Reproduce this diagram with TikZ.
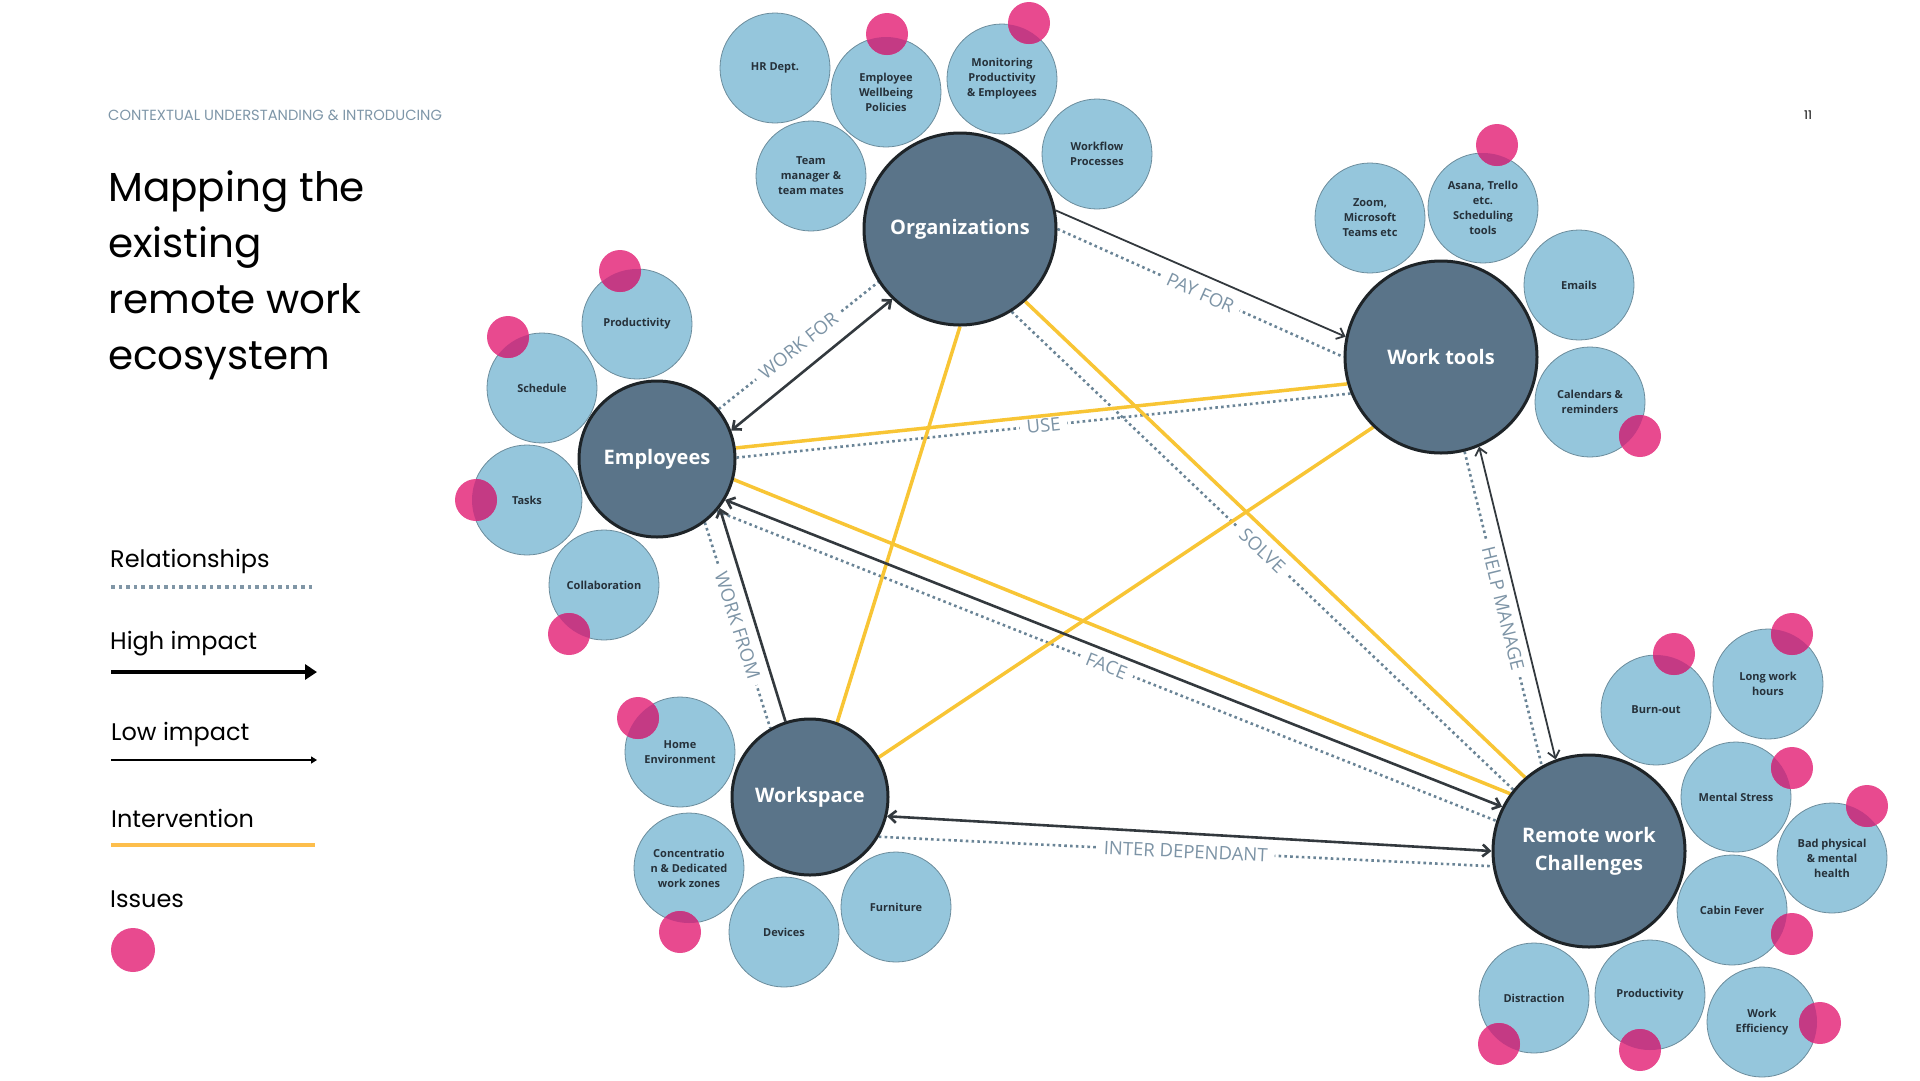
\documentclass[tikz,border=0pt]{standalone}
\usepackage{fontspec}
\setmainfont{Open Sans}
\newfontfamily\headfont{Poppins}
\usetikzlibrary{arrows.meta,positioning,calc,backgrounds}

\definecolor{hubfill}{HTML}{5A7489}
\definecolor{hubline}{HTML}{1E2428}
\definecolor{topicfill}{HTML}{95C6DC}
\definecolor{topicline}{HTML}{6B8C9C}
\definecolor{topictext}{HTML}{26313A}
\definecolor{issuepink}{HTML}{E84A8F}
\definecolor{issuedark}{HTML}{C43A84}
\definecolor{relcolor}{HTML}{6A8496}
\definecolor{reltext}{HTML}{7D94A6}
\definecolor{impactcolor}{HTML}{33393E}
\definecolor{intercolor}{HTML}{F8C535}
\definecolor{legendyellow}{HTML}{FDBE4C}
\definecolor{headgray}{HTML}{7E96A8}

\tikzset{
    hub/.style={circle, draw=hubline, line width=3pt, fill=hubfill, text=white, align=center,
        font=\fontsize{20}{28}\selectfont\bfseries, inner sep=0pt, outer sep=1.5pt},
    bighub/.style={hub, minimum size=192pt},
    smallhub/.style={hub, minimum size=156pt},
    topic/.style={circle, draw=topicline, line width=0.8pt, fill=topicfill, text=topictext, align=center,
        font=\fontsize{11}{15}\selectfont\bfseries, minimum size=110pt, inner sep=0pt},
    relation/.style={draw=relcolor, line width=2.6pt, dash pattern=on 2.6pt off 3.2pt},
    rellabel/.style={midway, sloped, fill=white, text=reltext, font=\fontsize{18.5}{22}\selectfont,
        inner xsep=7pt, inner ysep=2pt},
    intervention/.style={draw=intercolor, line width=3.5pt},
    highimpact/.style={draw=impactcolor, line width=2.6pt},
    lowimpact/.style={draw=impactcolor, line width=1.8pt},
    legendtext/.style={anchor=base west, inner sep=0pt, font=\headfont\fontsize{24}{28}\selectfont}
}

% issue dot on a topic circle: host, x, y
\newcommand{\issuedot}[3]{%
    \fill[issuepink] (#2,#3) circle[radius=21];
    \begin{scope}
        \clip (#1.center) circle[radius=55];
        \fill[issuedark] (#2,#3) circle[radius=21];
    \end{scope}}

\begin{document}
\begin{tikzpicture}[x=1pt, y=-1pt, >={Straight Barb[length=7pt,width=12pt]}]
    \useasboundingbox (0,0) rectangle (1920,1080);

    % heading
    \node[anchor=base west, inner sep=0pt, text=headgray, font=\headfont\fontsize{14.7}{17}\selectfont] (chapter) at (108,120) {CONTEXTUAL UNDERSTANDING \& INTRODUCING};
    \node[inner sep=0pt, font=\headfont\fontsize{12}{14}\selectfont] (pageno) at (1808,115) {11};
    \node[anchor=base west, inner sep=0pt, align=left, font=\headfont\fontsize{40.5}{56}\selectfont] (title) at (108,369)
        {Mapping the\\existing\\remote work\\ecosystem};

    % legend
    \node[legendtext] (legrel) at (110,567) {Relationships};
    \coordinate (legrelA) at (111,587);
    \coordinate (legrelB) at (315,587);
    \draw[draw=relcolor!85, line width=4pt, dash pattern=on 3.5pt off 4.1pt] (legrelA) -- (legrelB);
    \node[legendtext] (leghigh) at (110,649) {High impact};
    \coordinate (leghighA) at (111,672);
    \coordinate (leghighB) at (317,672);
    \draw[line width=4pt, -{Triangle[length=12pt,width=15pt]}] (leghighA) -- (leghighB);
    \node[legendtext] (leglow) at (111,740) {Low impact};
    \coordinate (leglowA) at (111,760);
    \coordinate (leglowB) at (317,760);
    \draw[line width=2pt, -{Triangle[length=6pt,width=7pt]}] (leglowA) -- (leglowB);
    \node[legendtext] (leginter) at (111,827) {Intervention};
    \coordinate (leginterA) at (111,845);
    \coordinate (leginterB) at (315,845);
    \draw[draw=legendyellow, line width=4.5pt] (leginterA) -- (leginterB);
    \node[legendtext] (legissue) at (110,907) {Issues};
    \fill[issuepink] (133,950) circle[radius=22];

    % main actors
    \node[bighub] (org) at (960,229) {Organizations};
    \node[bighub] (tools) at (1441,357) {Work tools};
    \node[smallhub] (emp) at (657,459) {Employees};
    \node[smallhub] (space) at (810,797) {Workspace};
    \node[bighub] (chal) at (1589,851) {Remote work\\Challenges};

    % organizations
    \node[topic] (hr) at (775,68) {HR Dept.};
    \node[topic] (wellbeing) at (886,92) {Employee\\Wellbeing\\Policies};
    \node[topic] (monitoring) at (1002,79) {Monitoring\\Productivity\\\& Employees};
    \node[topic] (teammgr) at (811,176) {Team\\manager \&\\team mates};
    \node[topic] (workflow) at (1097,154) {Workflow\\Processes};

    % work tools
    \node[topic] (zoom) at (1370,218) {Zoom,\\Microsoft\\Teams etc};
    \node[topic] (asana) at (1483,208) {Asana, Trello\\etc.\\Scheduling\\tools};
    \node[topic] (emails) at (1579,285) {Emails};
    \node[topic] (calendars) at (1590,402) {Calendars \&\\reminders};

    % employees
    \node[topic] (empprod) at (637,324) {Productivity};
    \node[topic] (schedule) at (542,388) {Schedule};
    \node[topic] (tasks) at (527,500) {Tasks};
    \node[topic] (collab) at (604,585) {Collaboration};

    % workspace
    \node[topic] (home) at (680,752) {Home\\Environment};
    \node[topic] (concentration) at (689,868) {Concentratio\\n \& Dedicated\\work zones};
    \node[topic] (devices) at (784,932) {Devices};
    \node[topic] (furniture) at (896,907) {Furniture};

    % challenges
    \node[topic] (burnout) at (1656,710) {Burn-out};
    \node[topic] (longhours) at (1768,684) {Long work\\hours};
    \node[topic] (stress) at (1736,797) {Mental Stress};
    \node[topic] (health) at (1832,858) {Bad physical\\\& mental\\health};
    \node[topic] (cabin) at (1732,910) {Cabin Fever};
    \node[topic] (distraction) at (1534,998) {Distraction};
    \node[topic] (chalprod) at (1650,995) {Productivity};
    \node[topic] (efficiency) at (1762,1022) {Work\\Efficiency};

    % issues
    \issuedot{wellbeing}{887}{34}
    \issuedot{monitoring}{1029}{23}
    \issuedot{asana}{1497}{145}
    \issuedot{calendars}{1640}{436}
    \issuedot{empprod}{620}{271}
    \issuedot{schedule}{508}{337}
    \issuedot{tasks}{476}{500}
    \issuedot{collab}{569}{634}
    \issuedot{home}{638}{718}
    \issuedot{concentration}{680}{932}
    \issuedot{burnout}{1674}{654}
    \issuedot{longhours}{1792}{634}
    \issuedot{stress}{1792}{768}
    \issuedot{health}{1867}{806}
    \issuedot{cabin}{1792}{934}
    \issuedot{distraction}{1499}{1044}
    \issuedot{chalprod}{1640}{1050}
    \issuedot{efficiency}{1820}{1023}

    \begin{scope}[on background layer]
        % relationships
        \draw[relation] (org.0) -- node[rellabel] {PAY FOR} (tools.180);
        \draw[relation] (emp.39) -- node[rellabel] {WORK FOR} (org.213);
        \draw[relation] (emp.1) -- node[rellabel] {USE} (tools.202);
        \draw[relation] (emp.-53) -- node[rellabel] {WORK FROM} (space.120);
        \draw[relation] (emp.-41) -- node[rellabel] {FACE} (chal.162);
        \draw[relation] (org.-58) -- node[rellabel] {SOLVE} (chal.141);
        \draw[relation] (tools.-76) -- node[rellabel] {HELP MANAGE} (chal.119);
        \draw[relation] (space.-30) -- node[rellabel] {INTER DEPENDANT} (chal.189);

        % interventions
        \draw[intervention] (emp.8) -- (tools.196);
        \draw[intervention] (emp.-15) -- (chal.144);
        \draw[intervention] (org.-90) -- (space.70);
        \draw[intervention] (org.-48) -- (chal.131);
        \draw[intervention] (tools.226) -- (space.30);

        % impacts
        \draw[highimpact, <->] (emp.21) -- (org.226);
        \draw[lowimpact, ->] (org.11) -- (tools.168);
        \draw[highimpact, ->] (space.108) -- (emp.-38);
        \draw[highimpact, <->] (emp.-31) -- (chal.153);
        \draw[lowimpact, <->] (tools.-67) -- (chal.110);
        \draw[highimpact, <->] (space.-14) -- (chal.180);
    \end{scope}
\end{tikzpicture}
\end{document}
